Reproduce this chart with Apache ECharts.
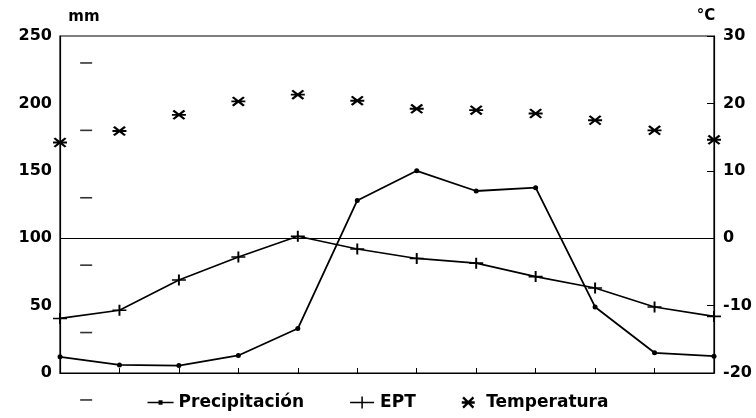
<!DOCTYPE html>
<html>
<head>
<meta charset="utf-8">
<script src="https://cdn.jsdelivr.net/npm/echarts@6/dist/echarts.min.js"></script>
<style>html,body{margin:0;padding:0;background:#fff}#c{width:756px;height:418px}</style>
</head>
<body>
<div id="c"></div>
<script>
var months = ['Ene','Feb','Mar','Abr','May','Jun','Jul','Ago','Sep','Oct','Nov','Dic'];
var precipitacion = [12, 6, 5.5, 13, 33, 128, 150, 135, 137.5, 49, 15, 12.5];
var ept = [40.5, 46.5, 69, 86, 101.5, 92, 85, 81.5, 71.5, 63, 49, 42];
var temperatura = [14.2, 15.9, 18.3, 20.3, 21.3, 20.4, 19.2, 19.0, 18.5, 17.5, 16.0, 14.6];
var mmTicks = [0, 50, 100, 150, 200, 250];
var cTicks = [-20, -10, 0, 10, 20, 30];
var strayDashes = [230, 180, 130, 80, 30, -20];
var strayDashX = 0.44;

var plusPath = 'path://M0,4.3L10,4.3L10,5.7L0,5.7Z M4.3,0L5.7,0L5.7,10L4.3,10Z';
var starPath = 'path://M0,4.1L10,4.1L10,5.9L0,5.9Z M1.63,0.37L9.63,8.37L8.37,9.63L0.37,1.63Z M9.63,1.63L1.63,9.63L0.37,8.37L8.37,0.37Z';
var precipIcon = 'path://M0,5.2L26,5.2L26,6.8L0,6.8Z M11,3.8L15,3.8L15,8.2L11,8.2Z';
var eptIcon = 'path://M2,5.3L24,5.3L24,6.7L2,6.7Z M12.3,0.5L13.7,0.5L13.7,11.5L12.3,11.5Z';
var font = '"DejaVu Sans", sans-serif';

var chart = echarts.init(document.getElementById('c'), null, {renderer: 'canvas'});
chart.setOption({
  animation: false,
  backgroundColor: '#fff',
  grid: {left: 60, right: 42, top: 36, bottom: 45, show: true, borderColor: '#000', borderWidth: 1.2, backgroundColor: 'transparent'},
  legend: {
    bottom: 2, left: 'center',
    data: [
      {name: 'Precipitación', icon: precipIcon},
      {name: 'EPT', icon: eptIcon},
      {name: 'Temperatura', icon: starPath}
    ],
    itemWidth: 26, itemHeight: 12, itemGap: 46,
    textStyle: {fontFamily: font, fontWeight: 'bold', fontSize: 17, color: '#000'}
  },
  xAxis: [{
    type: 'category', data: months, boundaryGap: false,
    axisLine: {lineStyle: {color: '#000', width: 1.2}},
    axisTick: {show: true, inside: true, length: 5, alignWithLabel: true, lineStyle: {color: '#000', width: 1}},
    axisLabel: {show: false}, splitLine: {show: false}
  }, {
    type: 'value', min: 0, max: 11, show: false
  }],
  yAxis: [{
    type: 'value', min: mmTicks[0], max: mmTicks[mmTicks.length - 1], interval: 50,
    name: 'mm', nameLocation: 'end', nameGap: 11,
    nameTextStyle: {fontFamily: font, fontWeight: 'bold', fontSize: 15, color: '#000', padding: [0, 0, 0, 48]},
    axisLine: {show: true, lineStyle: {color: '#000', width: 1.2}},
    axisTick: {show: false},
    axisLabel: {fontFamily: font, fontWeight: 'bold', fontSize: 16, color: '#000', margin: 8},
    splitLine: {show: false}
  }, {
    type: 'value', min: cTicks[0], max: cTicks[cTicks.length - 1], interval: 10,
    position: 'right',
    name: '°C', nameLocation: 'end', nameGap: 12,
    nameTextStyle: {fontFamily: font, fontWeight: 'bold', fontSize: 15, color: '#000', padding: [0, 16, 0, 0]},
    axisLine: {show: true, lineStyle: {color: '#000', width: 1.2}},
    axisTick: {show: true, inside: true, length: 7, lineStyle: {color: '#000', width: 1}},
    axisLabel: {fontFamily: font, fontWeight: 'bold', fontSize: 16, color: '#000', margin: 9},
    splitLine: {show: false}
  }],
  series: [{
    name: 'Precipitación', type: 'line', data: precipitacion,
    xAxisIndex: 0, yAxisIndex: 0,
    symbol: 'circle', symbolSize: 5,
    lineStyle: {color: '#000', width: 1.8},
    itemStyle: {color: '#000'},
    markLine: {
      silent: true, symbol: 'none', label: {show: false},
      lineStyle: {color: '#000', width: 1.2, type: 'solid'},
      data: [{yAxis: mmTicks[2]}]
    }
  }, {
    name: 'EPT', type: 'line', data: ept,
    xAxisIndex: 0, yAxisIndex: 0,
    symbol: plusPath, symbolSize: [14, 11],
    lineStyle: {color: '#000', width: 1.6},
    itemStyle: {color: '#000', borderWidth: 0}
  }, {
    name: 'Temperatura', type: 'scatter', data: temperatura,
    xAxisIndex: 0, yAxisIndex: 1,
    symbol: starPath, symbolSize: [14, 10],
    itemStyle: {color: '#000', borderWidth: 0, opacity: 1}
  }, {
    name: 'marcas', type: 'scatter', clip: false,
    xAxisIndex: 1, yAxisIndex: 0,
    data: strayDashes.map(function (v) { return [strayDashX, v]; }),
    symbol: 'rect', symbolSize: [12, 1.6],
    itemStyle: {color: '#000'}
  }]
});
</script>
</body>
</html>
